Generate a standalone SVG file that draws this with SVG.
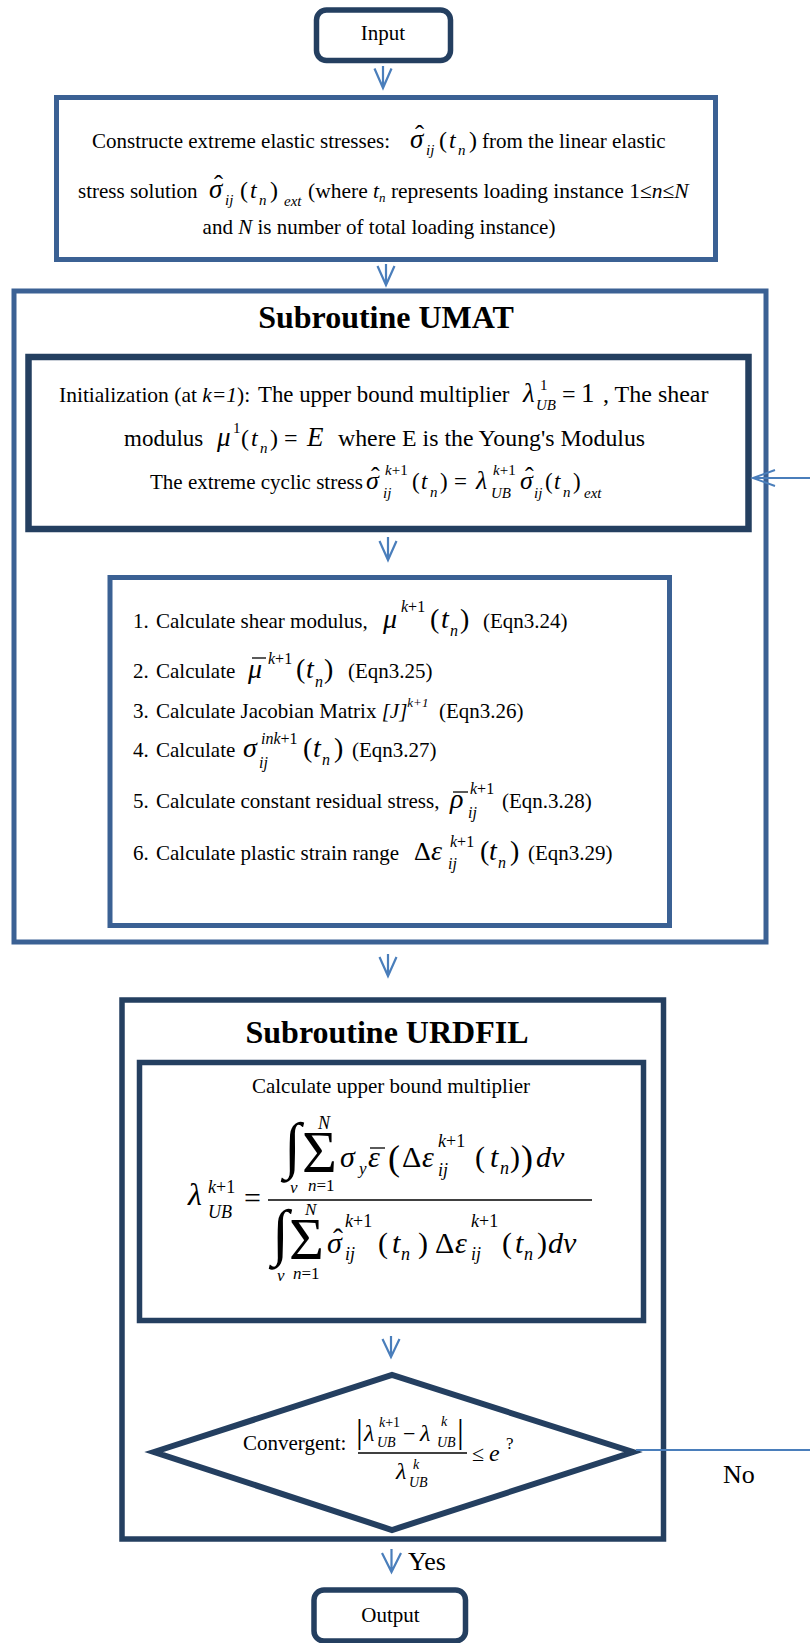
<svg xmlns="http://www.w3.org/2000/svg" width="810" height="1643" viewBox="0 0 810 1643">
<style>
text{font-family:"Liberation Serif","Times New Roman",serif;fill:#000}
.i{font-style:italic}
.b{font-weight:bold}
.mid{text-anchor:middle}
.blue{fill:#fff;stroke:#3B6194;stroke-width:5}
.dark{fill:#fff;stroke:#243F60;stroke-width:5.5}
.arr{fill:none;stroke:#4A7EBB;stroke-width:2.2}
.fb{fill:none;stroke:#4A7EBB;stroke-width:2}
.bar{stroke:#000;stroke-width:1.3}
</style>
<rect width="810" height="1643" fill="#fff"/>

<g id="input">
<rect class="dark" x="316.5" y="10" width="134" height="50.5" rx="10"/>
<text class="mid" x="383" y="40" font-size="21">Input</text>
</g>

<g id="construct">
<rect class="blue" x="56.5" y="97.5" width="659" height="162"/>
<text x="92" y="148" font-size="21">Constructe extreme elastic stresses:</text>
<text font-size="24"><tspan class="i" x="410" y="148" font-size="27">σ</tspan><tspan x="415" y="144" font-size="27">ˆ</tspan><tspan class="i" x="426" y="155" font-size="15">ij</tspan><tspan x="439" y="148">(</tspan><tspan class="i" x="449" y="148">t</tspan><tspan class="i" x="458" y="155" font-size="15">n</tspan><tspan x="469" y="148">)</tspan></text>
<text x="482" y="148" font-size="21">from the linear elastic</text>
<text x="78" y="198" font-size="21">stress solution</text>
<text font-size="24"><tspan class="i" x="209" y="198" font-size="27">σ</tspan><tspan x="214" y="194" font-size="27">ˆ</tspan><tspan class="i" x="225" y="205" font-size="15">ij</tspan><tspan x="240" y="198">(</tspan><tspan class="i" x="250" y="198">t</tspan><tspan class="i" x="259" y="205" font-size="15">n</tspan><tspan x="270" y="198">)</tspan><tspan class="i" x="284" y="206" font-size="15">ext</tspan></text>
<text x="308" y="198" font-size="21.5">(where <tspan class="i">t</tspan><tspan class="i" font-size="13" dy="4">n</tspan><tspan dy="-4"> represents loading instance 1≤</tspan><tspan class="i">n</tspan>≤<tspan class="i">N</tspan></text>
<text class="mid" x="379" y="234" font-size="21">and <tspan class="i">N</tspan> is number of total loading instance)</text>
</g>

<g id="umat">
<rect class="blue" x="14" y="291" width="752" height="651"/>
<text class="b mid" x="386" y="328" font-size="32">Subroutine UMAT</text>
</g>

<g id="init">
<rect class="dark" x="28.5" y="357" width="720" height="172" style="stroke-width:6.5"/>
<text x="59" y="402" font-size="21.5">Initialization (at <tspan class="i">k=1</tspan>):</text>
<text x="258" y="402" font-size="22.8">The upper bound multiplier</text>
<text font-size="24"><tspan class="i" x="523" y="402" font-size="27">λ</tspan><tspan x="540" y="390" font-size="15">1</tspan><tspan class="i" x="536" y="410" font-size="15">UB</tspan><tspan x="562" y="402">=</tspan><tspan x="581" y="402" font-size="27">1</tspan></text>
<text x="603" y="402" font-size="24">, The shear</text>
<text x="124" y="446" font-size="23">modulus</text>
<text font-size="24"><tspan class="i" x="217" y="446" font-size="27">μ</tspan><tspan x="233" y="433" font-size="15">1</tspan><tspan x="241" y="446">(</tspan><tspan class="i" x="251" y="446">t</tspan><tspan class="i" x="260" y="453" font-size="15">n</tspan><tspan x="270" y="446">)</tspan><tspan x="284" y="446">=</tspan><tspan class="i" x="307" y="446" font-size="27">E</tspan></text>
<text x="338" y="446" font-size="23.8">where E is the Young's Modulus</text>
<text x="150" y="489" font-size="21">The extreme cyclic stress</text>
<text font-size="23"><tspan class="i" x="366" y="489" font-size="26">σ</tspan><tspan x="371" y="485" font-size="26">ˆ</tspan><tspan x="385" y="475" font-size="15"><tspan class="i">k</tspan>+1</tspan><tspan class="i" x="383" y="498" font-size="15">ij</tspan><tspan x="412" y="489">(</tspan><tspan class="i" x="421" y="489">t</tspan><tspan class="i" x="430" y="497" font-size="15">n</tspan><tspan x="440" y="489">)</tspan><tspan x="454" y="489">=</tspan><tspan class="i" x="476" y="489" font-size="26">λ</tspan><tspan x="493" y="475" font-size="15"><tspan class="i">k</tspan>+1</tspan><tspan class="i" x="491" y="498" font-size="15">UB</tspan><tspan class="i" x="520" y="489" font-size="26">σ</tspan><tspan x="525" y="485" font-size="26">ˆ</tspan><tspan class="i" x="534" y="498" font-size="15">ij</tspan><tspan x="545" y="489">(</tspan><tspan class="i" x="554" y="489">t</tspan><tspan class="i" x="563" y="497" font-size="15">n</tspan><tspan x="573" y="489">)</tspan><tspan class="i" x="584" y="498" font-size="15">ext</tspan></text>
</g>

<g id="steps">
<rect class="blue" x="110" y="577.5" width="559.5" height="348"/>
<text x="133" y="628" font-size="21">1.</text>
<text x="156" y="628" font-size="21">Calculate shear modulus,</text>
<text font-size="28"><tspan class="i" x="383" y="628">μ</tspan><tspan x="401" y="612" font-size="16"><tspan class="i">k</tspan>+1</tspan><tspan x="430" y="628">(</tspan><tspan class="i" x="441" y="628">t</tspan><tspan class="i" x="450" y="636" font-size="16">n</tspan><tspan x="460" y="628">)</tspan></text>
<text x="483" y="628" font-size="21">(Eqn3.24)</text>

<text x="133" y="678" font-size="21">2.</text>
<text x="156" y="678" font-size="21">Calculate</text>
<line class="bar" x1="252" y1="658" x2="266" y2="658"/>
<text font-size="28"><tspan class="i" x="248" y="678">μ</tspan><tspan x="268" y="664" font-size="16"><tspan class="i">k</tspan>+1</tspan><tspan x="296" y="678">(</tspan><tspan class="i" x="306" y="678">t</tspan><tspan class="i" x="315" y="687" font-size="16">n</tspan><tspan x="324" y="678">)</tspan></text>
<text x="348" y="678" font-size="21">(Eqn3.25)</text>

<text x="133" y="718" font-size="21">3.</text>
<text x="156" y="718" font-size="21">Calculate Jacobian Matrix <tspan class="i">[J]</tspan><tspan class="i" font-size="13" dy="-11">k+1</tspan></text>
<text x="439" y="718" font-size="21">(Eqn3.26)</text>

<text x="133" y="757" font-size="21">4.</text>
<text x="156" y="757" font-size="21">Calculate</text>
<text font-size="28"><tspan class="i" x="243" y="757">σ</tspan><tspan x="261" y="744" font-size="16"><tspan class="i">ink</tspan>+1</tspan><tspan class="i" x="259" y="768" font-size="16">ij</tspan><tspan x="303" y="757">(</tspan><tspan class="i" x="313" y="757">t</tspan><tspan class="i" x="322" y="765" font-size="16">n</tspan><tspan x="334" y="757">)</tspan></text>
<text x="352" y="757" font-size="21">(Eqn3.27)</text>

<text x="133" y="808" font-size="21">5.</text>
<text x="156" y="808" font-size="21">Calculate constant residual stress,</text>
<line class="bar" x1="453" y1="792" x2="468" y2="792"/>
<text font-size="28"><tspan class="i" x="450" y="808">ρ</tspan><tspan x="470" y="794" font-size="16"><tspan class="i">k</tspan>+1</tspan><tspan class="i" x="468" y="818" font-size="16">ij</tspan></text>
<text x="502" y="808" font-size="21">(Eqn.3.28)</text>

<text x="133" y="860" font-size="21">6.</text>
<text x="156" y="860" font-size="21">Calculate plastic strain range</text>
<text font-size="28"><tspan x="414" y="860" font-size="26">Δ</tspan><tspan class="i" x="431" y="860">ε</tspan><tspan x="450" y="847" font-size="16"><tspan class="i">k</tspan>+1</tspan><tspan class="i" x="448" y="869" font-size="16">ij</tspan><tspan x="480" y="860">(</tspan><tspan class="i" x="489" y="860">t</tspan><tspan class="i" x="498" y="868" font-size="16">n</tspan><tspan x="510" y="860">)</tspan></text>
<text x="528" y="860" font-size="21">(Eqn3.29)</text>
</g>

<g id="urdfil">
<rect class="dark" x="122" y="1000" width="541.5" height="539"/>
<text class="b mid" x="387" y="1043" font-size="32">Subroutine URDFIL</text>
</g>

<g id="calc">
<rect class="dark" x="139.5" y="1062.5" width="504" height="258"/>
<text class="mid" x="391" y="1093" font-size="21">Calculate upper bound multiplier</text>
<text font-size="30"><tspan class="i" x="188" y="1205" font-size="32">λ</tspan><tspan x="208" y="1193" font-size="18"><tspan class="i">k</tspan>+1</tspan><tspan class="i" x="208" y="1218" font-size="18">UB</tspan><tspan x="244" y="1208">=</tspan></text>
<line x1="268" y1="1200" x2="592" y2="1200" stroke="#000" stroke-width="1.6"/>
<text x="284" y="1166" font-size="62">∫</text>
<text font-size="30"><tspan class="i" x="290" y="1193" font-size="17">v</tspan><tspan x="302" y="1172" font-size="60">Σ</tspan><tspan class="i" x="318" y="1129" font-size="18">N</tspan><tspan x="308" y="1191" font-size="17"><tspan class="i">n</tspan>=1</tspan><tspan class="i" x="340" y="1167">σ</tspan><tspan class="i" x="359" y="1174" font-size="17">y</tspan><tspan class="i" x="368" y="1167">ε</tspan><tspan x="388" y="1170" font-size="36">(</tspan><tspan x="402" y="1167">Δ</tspan><tspan class="i" x="422" y="1167">ε</tspan><tspan x="438" y="1147" font-size="18"><tspan class="i">k</tspan>+1</tspan><tspan class="i" x="438" y="1176" font-size="18">ij</tspan><tspan x="475" y="1167">(</tspan><tspan class="i" x="490" y="1167">t</tspan><tspan class="i" x="500" y="1174" font-size="18">n</tspan><tspan x="510" y="1167">)</tspan><tspan x="521" y="1170" font-size="36">)</tspan><tspan class="i" x="536" y="1167">dv</tspan></text>
<line class="bar" x1="370" y1="1148" x2="385" y2="1148"/>

<text x="272" y="1253" font-size="62">∫</text>
<text font-size="30"><tspan class="i" x="277" y="1281" font-size="17">v</tspan><tspan x="289" y="1259" font-size="60">Σ</tspan><tspan class="i" x="305" y="1215" font-size="17">N</tspan><tspan x="293" y="1279" font-size="17"><tspan class="i">n</tspan>=1</tspan><tspan class="i" x="327" y="1253">σ</tspan><tspan x="333" y="1249">ˆ</tspan><tspan x="345" y="1227" font-size="18"><tspan class="i">k</tspan>+1</tspan><tspan class="i" x="345" y="1260" font-size="18">ij</tspan><tspan x="378" y="1253">(</tspan><tspan class="i" x="392" y="1253">t</tspan><tspan class="i" x="401" y="1260" font-size="18">n</tspan><tspan x="418" y="1253">)</tspan><tspan x="435" y="1253">Δ</tspan><tspan class="i" x="455" y="1253">ε</tspan><tspan x="471" y="1227" font-size="18"><tspan class="i">k</tspan>+1</tspan><tspan class="i" x="471" y="1260" font-size="18">ij</tspan><tspan x="502" y="1253">(</tspan><tspan class="i" x="515" y="1253">t</tspan><tspan class="i" x="524" y="1260" font-size="18">n</tspan><tspan x="537" y="1253">)</tspan><tspan class="i" x="548" y="1253">dv</tspan></text>
</g>

<g id="decision">
<polygon points="154,1452 392,1375 633,1452 392,1530" fill="#fff" stroke="#243F60" stroke-width="6" stroke-linejoin="miter"/>
<text x="243" y="1450" font-size="21">Convergent:</text>
<text font-size="24"><tspan x="356" y="1443" font-size="34">|</tspan><tspan class="i" x="364" y="1441">λ</tspan><tspan x="379" y="1427" font-size="14"><tspan class="i">k</tspan>+1</tspan><tspan class="i" x="377" y="1447" font-size="14">UB</tspan><tspan x="403" y="1441" font-size="22">−</tspan><tspan class="i" x="420" y="1441">λ</tspan><tspan class="i" x="441" y="1426" font-size="14">k</tspan><tspan class="i" x="437" y="1447" font-size="14">UB</tspan><tspan x="457" y="1443" font-size="34">|</tspan></text>
<line x1="358" y1="1453" x2="467" y2="1453" stroke="#000" stroke-width="1.3"/>
<text font-size="24"><tspan class="i" x="396" y="1479">λ</tspan><tspan class="i" x="413" y="1469" font-size="14">k</tspan><tspan class="i" x="409" y="1487" font-size="14">UB</tspan></text>
<text font-size="22"><tspan x="472" y="1461">≤</tspan><tspan class="i" x="489" y="1461" font-size="24">e</tspan><tspan x="506" y="1449" font-size="17">?</tspan></text>
</g>

<g id="output">
<rect class="dark" x="314" y="1590" width="151.5" height="51" rx="10"/>
<text class="mid" x="390.5" y="1622" font-size="21">Output</text>
</g>

<g id="connectors">
<path class="arr" d="M383,66 V88 M374.5,68.5 L383,88 L391.5,68.5"/>
<path class="arr" d="M386,264 V285 M377.5,266 L386,285 L394.5,266"/>
<path class="arr" d="M388,537 V560 M379.5,541 L388,560 L396.5,541"/>
<path class="arr" d="M388,954 V976 M379.5,957 L388,976 L396.5,957"/>
<path class="arr" d="M391,1336 V1357 M382.5,1339 L391,1357 L399.5,1339"/>
<path class="arr" d="M391.5,1549 V1572 M382,1553 L391.5,1572 L401,1553"/>
<path class="fb" d="M636,1450 H810"/>
<path class="fb" d="M810,478 H753 M775,470 L753,478 L775,486"/>
<text x="408" y="1570" font-size="26">Yes</text>
<text x="723" y="1483" font-size="26">No</text>
</g>
</svg>
